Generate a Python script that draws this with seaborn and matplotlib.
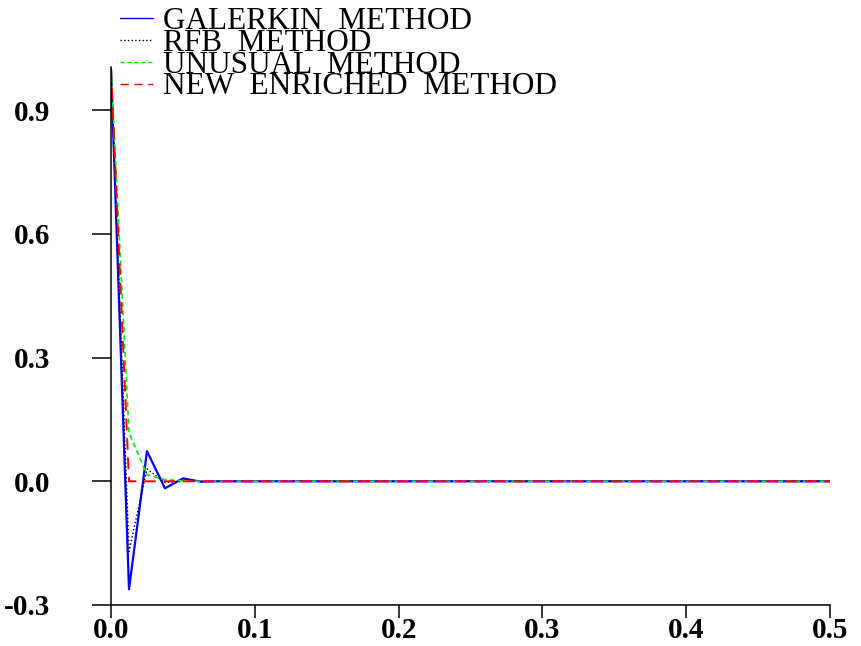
import matplotlib
matplotlib.use('Agg')
import matplotlib.pyplot as plt
import seaborn as sns
import pandas as pd

# mesh nodes near the boundary layer, then the far end of the domain
x = [0.0, 0.0125, 0.025, 0.0375, 0.05, 0.0625, 0.075, 0.5]

galerkin = [1.0, -0.262, 0.073, -0.017, 0.007, -0.001, 0.0, 0.0]
rfb = [1.0, -0.17, 0.03, -0.003, 0.0, 0.0, 0.0, 0.0]
unusual = [1.0, 0.118, 0.016, 0.004, 0.001, 0.0, 0.0, 0.0]
enriched = [1.0, 0.0, 0.0, 0.0, 0.0, 0.0, 0.0, 0.0]

labels = ['GALERKIN  METHOD', 'RFB  METHOD', 'UNUSUAL  METHOD', 'NEW  ENRICHED  METHOD']
colors = ['#0000ff', '#000000', '#00f000', '#ff0000']
styles = ['-', ':', (0, (3, 2)), (0, (6, 4))]
widths = [1.6, 1.0, 1.2, 1.4]

sns.set_style('ticks')
plt.rcParams['font.family'] = ['Liberation Serif', 'DejaVu Serif']
plt.rcParams['text.color'] = 'black'
plt.rcParams['xtick.color'] = 'black'
plt.rcParams['ytick.color'] = 'black'

df = pd.DataFrame({'x': x})
series = [galerkin, rfb, unusual, enriched]

fig = plt.figure(figsize=(8.62, 6.46), dpi=100)
ax = fig.add_axes([0.1288, 0.0635, 0.963 - 0.1288, 0.897 - 0.0635])

for vals, lab, c, ls, lw in zip(series, labels, colors, styles, widths):
    df['y'] = vals
    sns.lineplot(data=df, x='x', y='y', ax=ax, color=c, linestyle=ls,
                 linewidth=lw, label=lab, legend=False)

ax.set_xlim(0, 0.5)
ax.set_ylim(-0.3, 1.006)
ax.set_xticks([0, 0.1, 0.2, 0.3, 0.4, 0.5])
ax.set_yticks([-0.3, 0.0, 0.3, 0.6, 0.9])
ax.set_xticklabels(['0.0', '0.1', '0.2', '0.3', '0.4', '0.5'])
ax.set_yticklabels(['-0.3', '0.0', '0.3', '0.6', '0.9'])
ax.set_xlabel('')
ax.set_ylabel('')
for lbl in ax.get_xticklabels() + ax.get_yticklabels():
    lbl.set_fontsize(21)
    lbl.set_fontweight('bold')
    lbl.set_color('black')
ax.tick_params(axis='y', length=13.7, width=1.1, pad=30, color='black')
ax.tick_params(axis='x', length=9, width=1.1, pad=0, color='black')
sns.despine(ax=ax)
for s in ['left', 'bottom']:
    ax.spines[s].set_linewidth(1.1)
    ax.spines[s].set_color('black')

handles, labs = ax.get_legend_handles_labels()
leg = fig.legend(handles, labs, loc='upper left', bbox_to_anchor=(120 / 862, 1 - 7 / 646),
                 frameon=False, fontsize=22.5, handlelength=1.06, handletextpad=0.32,
                 labelspacing=-0.23, borderpad=0, borderaxespad=0)
for t in leg.get_texts():
    t.set_color('black')
for h in leg.legend_handles:
    h.set_linewidth(1.0)

fig.savefig('out.png', dpi=100)
